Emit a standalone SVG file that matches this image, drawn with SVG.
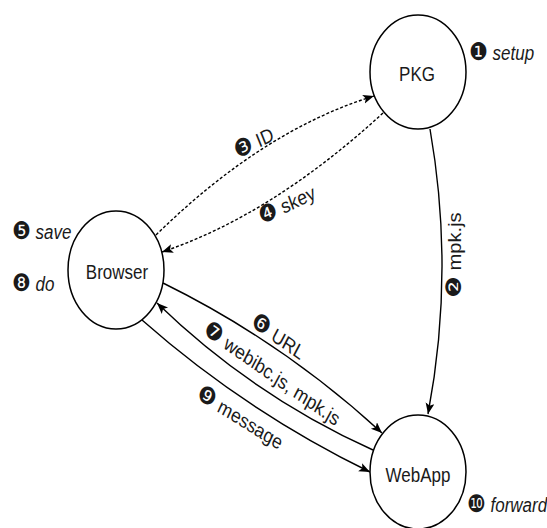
<svg xmlns="http://www.w3.org/2000/svg" width="547" height="528" viewBox="0 0 547 528">
<style>
  .node { fill: #fff; stroke: #000; stroke-width: 1.5; }
  .t { font-family: "Liberation Sans", Arial, sans-serif; fill: #1a1a1a; }
  .nl { font-size: 17px; text-anchor: middle; }
  .el { font-size: 17.5px; text-anchor: middle; }
  .sl { font-size: 17px; }
  .it { font-style: italic; }
  .d { font-family: "DejaVu Sans", sans-serif; font-size: 21px; }
  .c { fill: none; stroke: #000; stroke-width: 1.4; }
  .dash { stroke-dasharray: 3 2; }
</style>
<defs>
  <marker id="ah" markerUnits="userSpaceOnUse" markerWidth="12" markerHeight="10" refX="11" refY="4.5" orient="auto">
    <path d="M0,0 L11,4.5 L0,9 L2.5,4.5 z" fill="#000"/>
  </marker>
</defs>
<rect width="547" height="528" fill="#fff"/>

<g id="connectors">
  <path id="e-id" class="c dash" d="M156,235 Q263,130 374,96" marker-end="url(#ah)"/>
  <path id="e-skey" class="c dash" d="M383,113 Q272,215 162,252" marker-end="url(#ah)"/>
  <path id="e-mpk" class="c" d="M430,129 Q455,272 428,414" marker-end="url(#ah)"/>
  <path id="e-url" class="c" d="M163,283 Q283,342 382,433" marker-end="url(#ah)"/>
  <path id="e-webibc" class="c" d="M373,450 Q253,396 157,303" marker-end="url(#ah)"/>
  <path id="e-msg" class="c" d="M142,320 Q245,411 370,472" marker-end="url(#ah)"/>

  <text class="t el" transform="translate(254,143) scale(1,1.15) rotate(-24.8)" y="6"><tspan class="d">❸</tspan> ID</text>
  <text class="t el" transform="translate(287,205) scale(1,1.15) rotate(-23)" y="6"><tspan class="d">❹</tspan> skey</text>
  <text class="t el" transform="translate(455,255) scale(1,1.15) rotate(-90)" y="6"><tspan class="d">❷</tspan> mpk.js</text>
  <text class="t el" transform="translate(278,337) scale(1,1.15) rotate(31.3)" y="6"><tspan class="d">❻</tspan> URL</text>
  <text class="t el" transform="translate(272,374) scale(1,1.15) rotate(31.3)" y="6"><tspan class="d">❼</tspan> webibc.js, mpk.js</text>
  <text class="t el" transform="translate(240,418) scale(1,1.15) rotate(28.5)" y="6"><tspan class="d">❾</tspan> message</text>
</g>

<g id="node-pkg">
  <ellipse class="node" cx="418" cy="72" rx="48" ry="57"/>
  <text class="t nl" transform="translate(417,81) scale(1,1.15)">PKG</text>
  <text class="t sl" transform="translate(469,60) scale(1,1.15)"><tspan class="d">❶</tspan> <tspan class="it">setup</tspan></text>
</g>

<g id="node-browser">
  <ellipse class="node" cx="116" cy="270" rx="48" ry="59"/>
  <text class="t nl" transform="translate(117,279) scale(1,1.15)">Browser</text>
  <text class="t sl" transform="translate(12,239) scale(1,1.15)"><tspan class="d">❺</tspan> <tspan class="it">save</tspan></text>
  <text class="t sl" transform="translate(12,291) scale(1,1.15)"><tspan class="d">❽</tspan> <tspan class="it">do</tspan></text>
</g>

<g id="node-webapp">
  <ellipse class="node" cx="418" cy="472" rx="48" ry="57"/>
  <text class="t nl" transform="translate(418,482) scale(1,1.15)">WebApp</text>
  <text class="t sl" transform="translate(467,512) scale(1,1.15)"><tspan class="d">❿</tspan> <tspan class="it">forward</tspan></text>
</g>
</svg>
